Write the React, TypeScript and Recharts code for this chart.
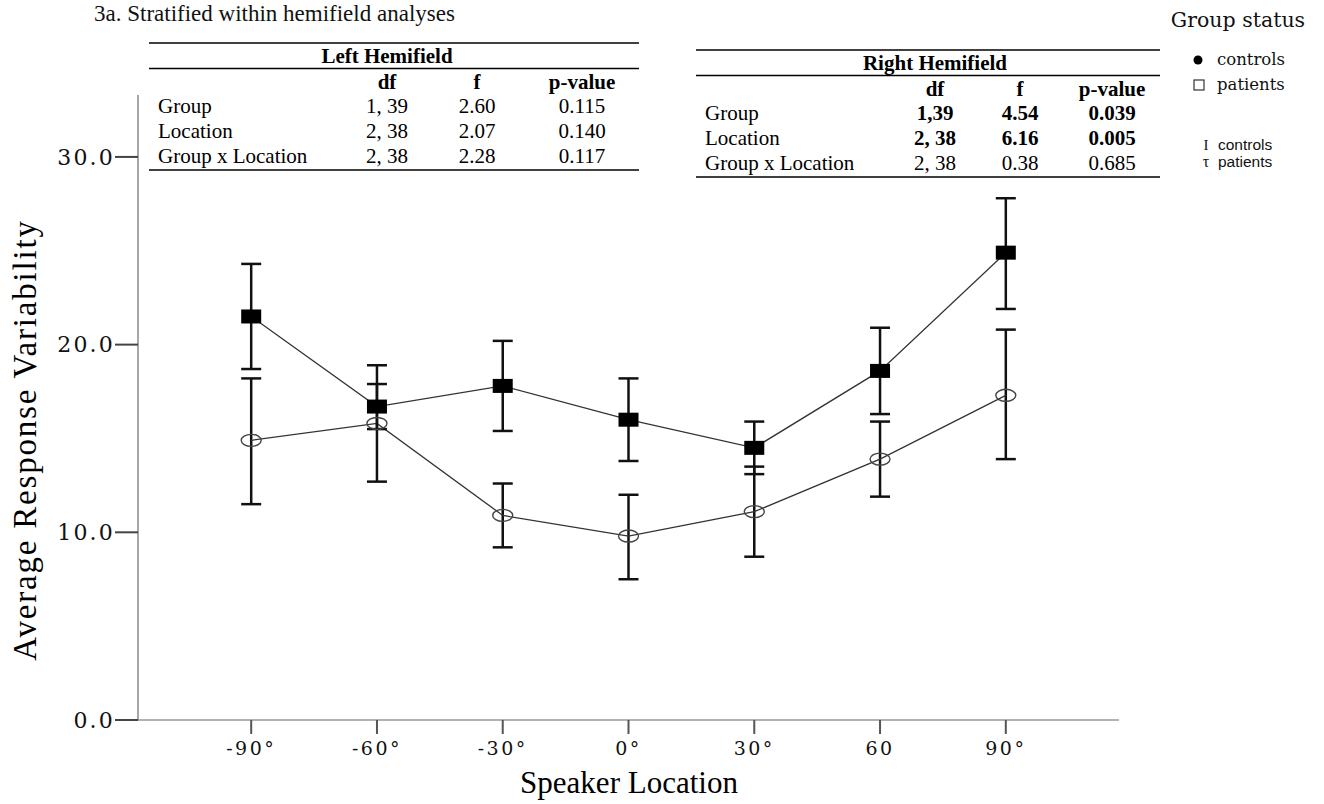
import React from 'react'
import { LineChart, Line, XAxis, YAxis, ErrorBar } from 'recharts'

// speaker locations (degrees) and their tick labels
const locations = [-90, -60, -30, 0, 30, 60, 90]
const locationLabels = ['-90°', '-60°', '-30°', '0°', '30°', '60', '90°']

// controls: mean and error bar ends
const controlsMean = [21.5, 16.7, 17.8, 16.0, 14.5, 18.6, 24.9]
const controlsLow = [18.7, 15.5, 15.4, 13.8, 13.1, 16.3, 21.9]
const controlsHigh = [24.3, 17.9, 20.2, 18.2, 15.9, 20.9, 27.8]

// patients: mean and error bar ends
const patientsMean = [14.9, 15.8, 10.9, 9.8, 11.1, 13.9, 17.3]
const patientsLow = [11.5, 12.7, 9.2, 7.5, 8.7, 11.9, 13.9]
const patientsHigh = [18.2, 18.9, 12.6, 12.0, 13.5, 15.9, 20.8]

const yTicks = [0, 10, 20, 30]

// stats tables
const effects = ['Group', 'Location', 'Group x Location']
const leftDf = ['1, 39', '2, 38', '2, 38']
const leftF = ['2.60', '2.07', '2.28']
const leftP = ['0.115', '0.140', '0.117']
const rightDf = ['1,39', '2, 38', '2, 38']
const rightF = ['4.54', '6.16', '0.38']
const rightP = ['0.039', '0.005', '0.685']
const rightBold = [true, true, false]

const data = locations.map((loc, i) => ({
  loc,
  controls: controlsMean[i],
  controlsErr: [controlsMean[i] - controlsLow[i], controlsHigh[i] - controlsMean[i]],
  patients: patientsMean[i],
  patientsErr: [patientsMean[i] - patientsLow[i], patientsHigh[i] - patientsMean[i]],
}))

const serif = '"Liberation Serif", "Times New Roman", serif'
const wide = '"DejaVu Serif", serif'

const SquareDot = (props: any) => {
  const { cx, cy } = props
  if (cx == null || cy == null) return null
  return <rect x={cx - 10} y={cy - 7} width={20} height={14} fill="#000" />
}

const CircleDot = (props: any) => {
  const { cx, cy } = props
  if (cx == null || cy == null) return null
  return <ellipse cx={cx} cy={cy} rx={10} ry={6} fill="none" stroke="#444" strokeWidth={1.4} />
}

const StatTable = ({ x, x2, top, title, df, f, p, bold, cols }: any) => {
  const rowY = [top + 70, top + 95, top + 120]
  return (
    <g fontFamily={serif} fontSize={21} fill="#000">
      <line x1={x} x2={x2} y1={top} y2={top} stroke="#000" strokeWidth={1.5} />
      <text x={cols[0]} y={top + 19.5} textAnchor="middle" fontWeight="bold">{title}</text>
      <line x1={x} x2={x2} y1={top + 25.5} y2={top + 25.5} stroke="#000" strokeWidth={1.5} />
      <text x={cols[0]} y={top + 45.5} textAnchor="middle" fontWeight="bold">df</text>
      <text x={cols[1]} y={top + 45.5} textAnchor="middle" fontWeight="bold">f</text>
      <text x={cols[2]} y={top + 45.5} textAnchor="middle" fontWeight="bold">p-value</text>
      {effects.map((e, i) => (
        <g key={e} fontWeight={bold && bold[i] ? 'bold' : 'normal'}>
          <text x={x + 9} y={rowY[i]} fontWeight="normal">{e}</text>
          <text x={cols[0]} y={rowY[i]} textAnchor="middle">{df[i]}</text>
          <text x={cols[1]} y={rowY[i]} textAnchor="middle">{f[i]}</text>
          <text x={cols[2]} y={rowY[i]} textAnchor="middle">{p[i]}</text>
        </g>
      ))}
      <line x1={x} x2={x2} y1={top + 127} y2={top + 127} stroke="#000" strokeWidth={1.5} />
    </g>
  )
}

export default function App() {
  return (
    <div style={{ position: 'absolute', left: 0, top: 0, width: 1324, height: 804, background: '#fff' }}>
      <LineChart
        width={1324}
        height={804}
        data={data}
        margin={{ top: 95, right: 205, bottom: 44, left: 38 }}
      >
        <XAxis
          dataKey="loc"
          type="number"
          domain={[-117, 117]}
          ticks={locations}
          tickFormatter={(v: number) => locationLabels[locations.indexOf(v)]}
          height={40}
          tickSize={14}
          tickMargin={8}
          axisLine={{ stroke: '#999', strokeWidth: 1.5 }}
          tickLine={{ stroke: '#555', strokeWidth: 2 }}
          tick={{ fontFamily: wide, fontSize: 19, fill: '#111', letterSpacing: 2.5 }}
        />
        <YAxis
          type="number"
          domain={[0, 33.3]}
          ticks={yTicks}
          tickFormatter={(v: number) => v.toFixed(1)}
          width={100}
          tickSize={23}
          tickMargin={0}
          axisLine={{ stroke: '#888', strokeWidth: 1.5 }}
          tickLine={{ stroke: '#444', strokeWidth: 2 }}
          tick={{ fontFamily: wide, fontSize: 22, fill: '#111', letterSpacing: 2.2 }}
        />
        <Line
          dataKey="patients"
          stroke="#333"
          strokeWidth={1.3}
          dot={<CircleDot />}
          activeDot={false}
          isAnimationActive={false}
        >
          <ErrorBar dataKey="patientsErr" width={10} stroke="#111" strokeWidth={2.5} direction="y" />
        </Line>
        <Line
          dataKey="controls"
          stroke="#333"
          strokeWidth={1.3}
          dot={<SquareDot />}
          activeDot={false}
          isAnimationActive={false}
        >
          <ErrorBar dataKey="controlsErr" width={10} stroke="#111" strokeWidth={2.5} direction="y" />
        </Line>
      </LineChart>

      <svg
        width={1324}
        height={804}
        style={{ position: 'absolute', left: 0, top: 0, pointerEvents: 'none' }}
      >
        <text x={94} y={21} fontFamily={serif} fontSize={23} fill="#111">
          3a. Stratified within hemifield analyses
        </text>

        <StatTable
          x={149} x2={639} top={43} title="Left Hemifield"
          df={leftDf} f={leftF} p={leftP} cols={[387, 477, 582]}
        />
        <StatTable
          x={696} x2={1160} top={50} title="Right Hemifield"
          df={rightDf} f={rightF} p={rightP} bold={rightBold} cols={[935, 1020, 1112]}
        />

        {/* legend */}
        <text x={1238} y={27} textAnchor="middle" fontFamily={wide} fontSize={20.5} fill="#111">Group status</text>
        <circle cx={1198} cy={60} r={4.5} fill="#000" />
        <text x={1217} y={65} fontFamily={wide} fontSize={16.5} fill="#111">controls</text>
        <rect x={1194} y={80} width={10} height={10} fill="none" stroke="#333" strokeWidth={1.2} />
        <text x={1217} y={90} fontFamily={wide} fontSize={16.5} fill="#111">patients</text>
        <text x={1206} y={150} textAnchor="middle" fontFamily={serif} fontSize={15} fill="#111">I</text>
        <text x={1218} y={150} fontFamily='"Liberation Sans", Arial, sans-serif' fontSize={15.5} fill="#111">controls</text>
        <text x={1206} y={167} textAnchor="middle" fontFamily={serif} fontSize={16} fill="#111">τ</text>
        <text x={1218} y={167} fontFamily='"Liberation Sans", Arial, sans-serif' fontSize={15.5} fill="#111">patients</text>

        {/* axis titles */}
        <text
          x={0} y={0}
          transform="translate(36 440) rotate(-90)"
          textAnchor="middle"
          fontFamily={serif}
          fontSize={33}
          letterSpacing={1.8}
          fill="#000"
        >
          Average Response Variability
        </text>
        <text x={629} y={793} textAnchor="middle" fontFamily={serif} fontSize={31} fill="#000">
          Speaker Location
        </text>
      </svg>
    </div>
  )
}
